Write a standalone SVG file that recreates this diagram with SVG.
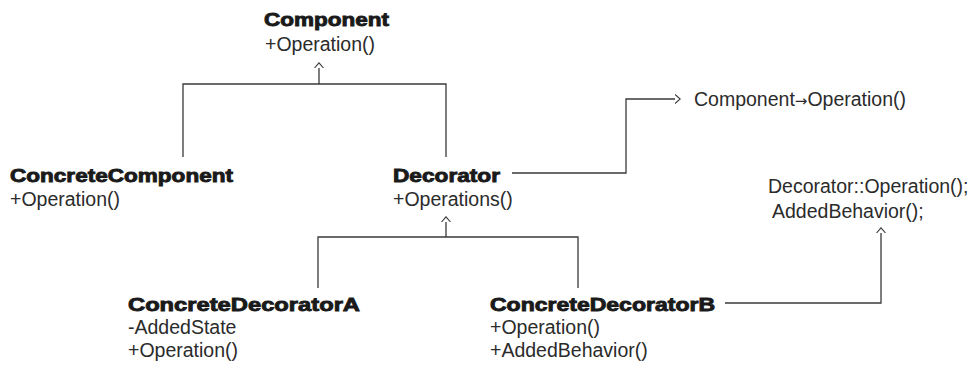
<svg xmlns="http://www.w3.org/2000/svg" width="979" height="369" viewBox="0 0 979 369">
  <style>
    .title { font-family: "Liberation Sans", Arial, sans-serif; font-weight: bold; font-size: 19px; fill: #1a1a1a; stroke: #1a1a1a; stroke-width: 0.9px; }
    .member { font-family: "Liberation Sans", Arial, sans-serif; font-size: 19.5px; fill: #2b2b2b; }
    .glyph { font-family: "DejaVu Sans", sans-serif; font-size: 15px; }
    .link { fill: none; stroke: #3a3a3a; stroke-width: 1.3; }
  </style>
  <defs>
    <!-- open chevron head; the line stops at its base -->
    <marker id="open" viewBox="0 0 6 10" refX="0" refY="5" markerWidth="6" markerHeight="10" markerUnits="userSpaceOnUse" orient="auto">
      <path d="M0,0.5 L5.2,5 L0,9.5" fill="none" stroke="#3a3a3a" stroke-width="1.1"/>
    </marker>
  </defs>
  <rect width="979" height="369" fill="#ffffff"/>

  <g id="connectors">
    <!-- Component generalization -->
    <path class="link" d="M183,157 V84 H446 V157"/>
    <path class="link" d="M319,84 V68" marker-end="url(#open)"/>
    <!-- Decorator delegates to its component -->
    <path class="link" d="M512,173 H626 V99 H675" marker-end="url(#open)"/>
    <!-- Decorator generalization -->
    <path class="link" d="M318,288 V237 H578 V288"/>
    <path class="link" d="M446,237 V222" marker-end="url(#open)"/>
    <!-- ConcreteDecoratorB note -->
    <path class="link" d="M725,303 H881 V233" marker-end="url(#open)"/>
  </g>

  <g id="component">
    <text class="title" x="264" y="26" textLength="125" lengthAdjust="spacingAndGlyphs">Component</text>
    <text class="member" x="265" y="51">+Operation()</text>
  </g>

  <g id="concrete-component">
    <text class="title" x="10" y="182" textLength="223" lengthAdjust="spacingAndGlyphs">ConcreteComponent</text>
    <text class="member" x="10" y="206">+Operation()</text>
  </g>

  <g id="decorator">
    <text class="title" x="393" y="182" textLength="107" lengthAdjust="spacingAndGlyphs">Decorator</text>
    <text class="member" x="393" y="206">+Operations()</text>
  </g>

  <g id="delegate-note">
    <text class="member" x="694" y="106">Component<tspan class="glyph">→</tspan>Operation()</text>
  </g>

  <g id="behavior-note">
    <text class="member" x="768" y="193">Decorator::Operation();</text>
    <text class="member" x="772" y="218">AddedBehavior();</text>
  </g>

  <g id="concrete-decorator-a">
    <text class="title" x="128" y="311" textLength="232" lengthAdjust="spacingAndGlyphs">ConcreteDecoratorA</text>
    <text class="member" x="128" y="334">-AddedState</text>
    <text class="member" x="128" y="357">+Operation()</text>
  </g>

  <g id="concrete-decorator-b">
    <text class="title" x="490" y="311" textLength="225" lengthAdjust="spacingAndGlyphs">ConcreteDecoratorB</text>
    <text class="member" x="490" y="334">+Operation()</text>
    <text class="member" x="490" y="357">+AddedBehavior()</text>
  </g>
</svg>
